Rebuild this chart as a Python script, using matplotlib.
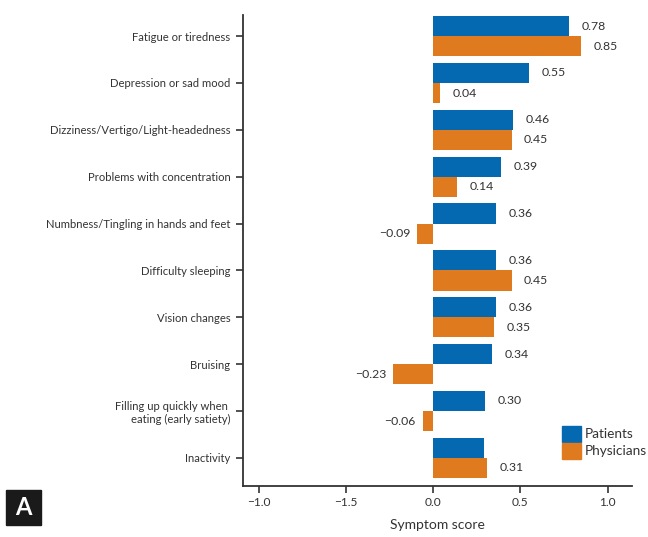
import matplotlib
matplotlib.use('Agg')
import matplotlib.pyplot as plt
import numpy as np
from matplotlib.patches import Rectangle, Patch

symptoms = [
    'Fatigue or tiredness',
    'Depression or sad mood',
    'Dizziness/Vertigo/Light-headedness',
    'Problems with concentration',
    'Numbness/Tingling in hands and feet',
    'Difficulty sleeping',
    'Vision changes',
    'Bruising',
    'Filling up quickly when \neating (early satiety)',
    'Inactivity',
]
patients = [0.78, 0.55, 0.46, 0.39, 0.36, 0.36, 0.36, 0.34, 0.30, 0.29]
patient_labels = ['0.78', '0.55', '0.46', '0.39', '0.36', '0.36', '0.36', '0.34', '0.30', '']
physicians = [0.85, 0.04, 0.45, 0.14, -0.09, 0.45, 0.35, -0.23, -0.06, 0.31]
physician_labels = ['0.85', '0.04', '0.45', '0.14', '\u22120.09', '0.45', '0.35', '\u22120.23', '\u22120.06', '0.31']
xticks = [-1.0, -0.5, 0.0, 0.5, 1.0]
xtick_labels = ['\u22121.0', '\u22121.5', '0.0', '0.5', '1.0']

BLUE = '#0469b0'
ORANGE = '#e07a1f'
TXT = '#333333'

plt.rcParams['font.family'] = ['Lato', 'DejaVu Sans']

fig = plt.figure(figsize=(6.48, 5.37), dpi=100)
ax = fig.add_axes([243 / 648, 51 / 537, (632 - 243) / 648, (486 - 15) / 537])

y = np.arange(len(symptoms))
h = 0.43
ax.barh(y - h / 2, patients, height=h, color=BLUE, label='Patients')
ax.barh(y + h / 2, physicians, height=h, color=ORANGE, label='Physicians')

def put_label(val, yy, txt):
    if not txt:
        return
    if val >= 0:
        ax.annotate(txt, (val, yy), xytext=(9, 0), textcoords='offset points',
                    ha='left', va='center', fontsize=8.8, color=TXT)
    else:
        ax.annotate(txt, (val, yy), xytext=(-5, 0), textcoords='offset points',
                    ha='right', va='center', fontsize=8.8, color=TXT)

for i in range(len(symptoms)):
    put_label(patients[i], y[i] - h / 2, patient_labels[i])
    put_label(physicians[i], y[i] + h / 2, physician_labels[i])

ax.set_xlim(-1.089, 1.14)
ax.set_ylim(9.6, -0.45)
ax.set_yticks(y)
ax.set_yticklabels(symptoms, fontsize=8.1, color=TXT)
ax.set_xticks(xticks)
ax.set_xticklabels(xtick_labels, fontsize=8.6, color=TXT)
ax.set_xlabel('Symptom score', fontsize=10, color=TXT, labelpad=8)

for s in ['top', 'right']:
    ax.spines[s].set_visible(False)
for s in ['left', 'bottom']:
    ax.spines[s].set_color('#333333')
    ax.spines[s].set_linewidth(1.3)
ax.tick_params(axis='y', length=5, width=1.2, color='#333333', pad=4)
ax.tick_params(axis='x', length=5, width=1.2, color='#333333', pad=3)

handles = [Patch(color=BLUE), Patch(color=ORANGE)]
fig.legend(handles, ['Patients', 'Physicians'], loc='upper left',
           bbox_to_anchor=(562 / 648, 1 - 426 / 537), bbox_transform=fig.transFigure,
           frameon=False, fontsize=9.8, handlelength=1.4, handleheight=1.4,
           handletextpad=0.3, labelspacing=0.1, borderpad=0, borderaxespad=0,
           labelcolor=TXT)

# panel letter
fig.patches.append(Rectangle((6 / 648, 12 / 537), 35 / 648, 35 / 537,
                             transform=fig.transFigure, color='#1a1a1a', zorder=5))
fig.text(23.5 / 648, 29.5 / 537, 'A', color='white', fontsize=17, fontweight='bold',
         ha='center', va='center', zorder=6)

fig.savefig('out.png', dpi=100)
